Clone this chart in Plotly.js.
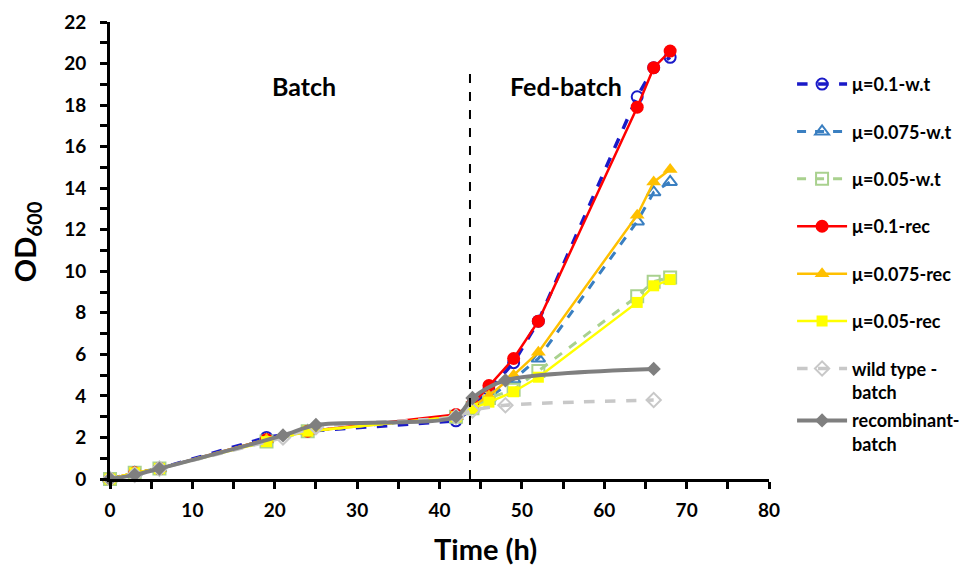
<!DOCTYPE html>
<html>
<head>
<meta charset="utf-8">
<script src="https://cdn.plot.ly/plotly-3.0.1.min.js"></script>
<style>html,body{margin:0;padding:0;background:#fff;}#chart{width:977px;height:565px;}</style>
</head>
<body>
<div id="chart"></div>
<script>
// Time points (h)
const timeFed = [0, 3, 6, 19, 24, 42, 44, 46, 49, 52, 64, 66, 68];
const timeBatch = [0, 3, 6, 21, 25, 42, 44, 48, 66];

// OD600 values
const mu01wt   = [0, 0.3, 0.5, 2.0, 2.3, 2.8, 3.4, 4.3, 5.6, 7.6, 18.4, 19.8, 20.3];
const mu075wt  = [0, 0.3, 0.5, 1.9, 2.3, 3.0, 3.4, 3.9, 4.8, 5.8, 12.4, 13.8, 14.3];
const mu05wt   = [0, 0.3, 0.5, 1.8, 2.3, 3.0, 3.4, 3.9, 4.3, 5.2, 8.8, 9.5, 9.7];
const mu01rec  = [0, 0.3, 0.5, 1.9, 2.3, 3.1, 3.6, 4.5, 5.8, 7.6, 17.9, 19.8, 20.6];
const mu075rec = [0, 0.3, 0.5, 1.9, 2.3, 3.0, 3.5, 4.0, 5.0, 6.1, 12.7, 14.3, 14.9];
const mu05rec  = [0, 0.3, 0.5, 1.8, 2.3, 3.0, 3.4, 3.7, 4.2, 4.9, 8.5, 9.3, 9.6];
const wtBatch  = [0, 0.2, 0.5, 2.0, 2.5, 3.0, 3.3, 3.55, 3.8];
const recBatch = [0, 0.2, 0.5, 2.1, 2.6, 3.0, 3.9, 4.75, 5.3];

const names = ['μ=0.1-w.t', 'μ=0.075-w.t', 'μ=0.05-w.t', 'μ=0.1-rec', 'μ=0.075-rec', 'μ=0.05-rec', 'wild type -<br>batch', 'recombinant-<br>batch'];

const FONT = 'Lato, "Open Sans", "DejaVu Sans", sans-serif';

function tr(x, y, name, color, dash, symbol, size, width, shape, grp, leg) {
  return {
    x: x, y: y, name: name, type: 'scatter', mode: 'lines+markers',
    legendgroup: grp, legend: leg || 'legend', cliponaxis: false,
    line: {color: color, dash: dash, width: width, shape: shape || 'linear', smoothing: 0.8},
    marker: {symbol: symbol, size: size, color: color,
             line: {color: color, width: symbol.indexOf('open') >= 0 ? 2 : 0}}
  };
}

const data = [
  tr(timeFed, mu01wt, names[0], '#1A1AC8', 'dash', 'circle-open', 11, 3.5, 'linear', 'a'),
  tr(timeFed, mu075wt, names[1], '#3A7FC1', 'dash', 'triangle-up-open', 12, 3, 'linear', 'b'),
  tr(timeFed, mu05wt, names[2], '#A9D18E', 'dash', 'square-open', 12, 3, 'linear', 'c'),
  tr(timeFed, mu01rec, names[3], '#FF0000', 'solid', 'circle', 13, 2.5, 'linear', 'd'),
  tr(timeFed, mu075rec, names[4], '#FFC000', 'solid', 'triangle-up', 13, 2.5, 'linear', 'e'),
  tr(timeFed, mu05rec, names[5], '#FFFF00', 'solid', 'square', 11, 2.5, 'linear', 'f'),
  tr(timeBatch, wtBatch, names[6], '#C8C8C8', 'dash', 'diamond-open', 11, 3.5, 'spline', 'g'),
  tr(timeBatch, recBatch, names[7], '#7F7F7F', 'solid', 'diamond', 11, 4, 'spline', 'h', 'legend2')
];

const legendFont = {family: FONT, size: 18, color: '#000', weight: 'bold'};

const layout = {
  width: 977, height: 565,
  margin: {l: 110, r: 206, t: 22, b: 86},
  paper_bgcolor: '#fff', plot_bgcolor: '#fff',
  font: {family: FONT, color: '#000', size: 18, weight: 'bold'},
  showlegend: true,
  legend: {
    x: 1.035, xanchor: 'left', y: 0.904, yanchor: 'top',
    font: legendFont, tracegroupgap: 21, valign: 'top', itemwidth: 50,
    bgcolor: 'rgba(0,0,0,0)'
  },
  legend2: {
    x: 1.035, xanchor: 'left', y: 0.168, yanchor: 'top',
    font: legendFont, valign: 'top', itemwidth: 50,
    bgcolor: 'rgba(0,0,0,0)'
  },
  xaxis: {
    range: [0, 80], dtick: 10, tick0: 0,
    showgrid: false, zeroline: false,
    showline: true, linecolor: '#000', linewidth: 3,
    ticks: 'outside', ticklen: 7, tickwidth: 3, tickcolor: '#000',
    minor: {dtick: 5, ticks: 'outside', ticklen: 7, tickwidth: 3, tickcolor: '#000', showgrid: false},
    tickfont: {family: FONT, size: 19, weight: 'bold'},
    ticklabelstandoff: 5
  },
  yaxis: {
    range: [0, 22], dtick: 2, tick0: 0,
    showgrid: false, zeroline: false,
    showline: true, linecolor: '#000', linewidth: 3,
    ticks: 'outside', ticklen: 7, tickwidth: 3, tickcolor: '#000',
    minor: {dtick: 1, ticks: 'outside', ticklen: 7, tickwidth: 3, tickcolor: '#000', showgrid: false},
    tickfont: {family: FONT, size: 19, weight: 'bold'},
    ticklabelstandoff: 10
  },
  shapes: [{
    type: 'line', xref: 'x', yref: 'y', x0: 43.7, x1: 43.7, y0: 0, y1: 19.6,
    line: {color: '#000', width: 2, dash: 'dash'}
  }],
  annotations: [
    {x: 23.6, y: 18.9, xref: 'x', yref: 'y', text: 'Batch', showarrow: false,
     font: {family: FONT, size: 25, weight: 'bold', color: '#000'}},
    {x: 55.4, y: 18.9, xref: 'x', yref: 'y', text: 'Fed-batch', showarrow: false,
     font: {family: FONT, size: 25, weight: 'bold', color: '#000'}},
    {x: (487 - 110) / 661, y: -(548 - 479) / 457, xref: 'paper', yref: 'paper',
     text: 'Time (h)', showarrow: false, xanchor: 'center', yanchor: 'middle',
     font: {family: FONT, size: 29, weight: 'bold', color: '#000'}},
    {x: -(110 - 27) / 661, y: (479 - 242) / 457, xref: 'paper', yref: 'paper',
     text: 'OD<sub>600</sub>', showarrow: false, textangle: -90, xanchor: 'center', yanchor: 'middle',
     font: {family: FONT, size: 29, weight: 'bold', color: '#000'}}
  ]
};

Plotly.newPlot('chart', data, layout, {displayModeBar: false, staticPlot: true});
</script>
</body>
</html>
